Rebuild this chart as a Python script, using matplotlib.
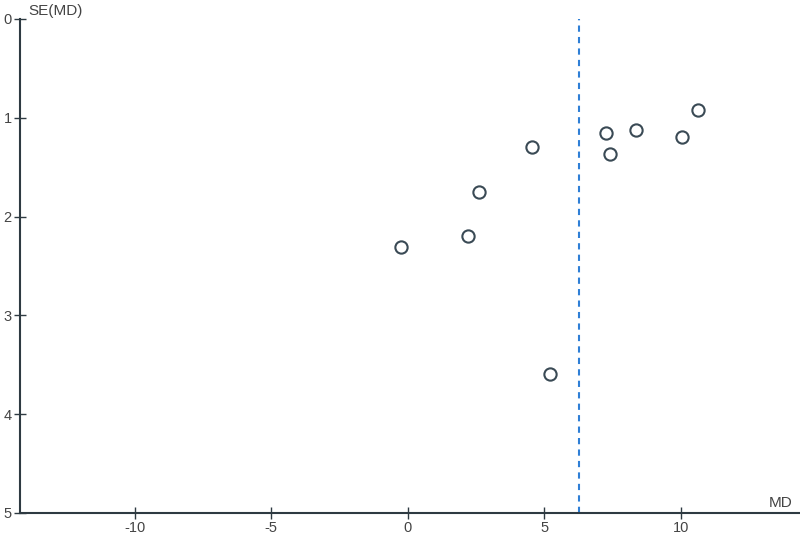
import matplotlib
matplotlib.use('Agg')
import matplotlib.pyplot as plt

# study estimates (mean difference) and standard errors
md = [10.64, 7.25, 8.35, 10.04, 7.41, 4.53, 2.61, 2.21, -0.26, 5.2]
se = [0.92, 1.15, 1.12, 1.19, 1.37, 1.30, 1.75, 2.20, 2.31, 3.59]
pooled_md = 6.26

xticks = [-10, -5, 0, 5, 10]
yticks = [0, 1, 2, 3, 4, 5]

axis_col = '#2e3a42'
text_col = '#444444'

plt.rcParams['font.family'] = ['Liberation Sans', 'DejaVu Sans']
plt.rcParams['axes.unicode_minus'] = False

fig = plt.figure(figsize=(8, 5.38), dpi=100)
ax = fig.add_axes([0.025, 0.0465, 0.975, 0.9182])

ax.scatter(md, se, s=78, facecolors='white', edgecolors='#3a4a55',
           linewidths=1.5, zorder=3, clip_on=False)
ax.axvline(pooled_md, color='#2f7fd6', linestyle=(0, (3, 2.5)), linewidth=1.5, zorder=2)

ax.set_xlim(-14.2, 14.36)
ax.set_ylim(5, 0)
ax.set_xticks(xticks)
ax.set_yticks(yticks)

for side in ['top', 'right']:
    ax.spines[side].set_visible(False)
for side in ['left', 'bottom']:
    ax.spines[side].set_color(axis_col)
    ax.spines[side].set_linewidth(1.5)

ax.tick_params(axis='both', direction='inout', length=9, width=1,
               color=axis_col, labelcolor=text_col, labelsize=10.5)
ax.tick_params(axis='x', pad=1)
ax.tick_params(axis='y', pad=1.5)

ax.text(0.0103, 1.008, 'SE(MD)', transform=ax.transAxes, fontsize=11,
        color=text_col, ha='left', va='baseline')
ax.text(0.991, 0.012, 'MD', transform=ax.transAxes, fontsize=11,
        color=text_col, ha='right', va='baseline')

fig.savefig('out.png', dpi=100)
